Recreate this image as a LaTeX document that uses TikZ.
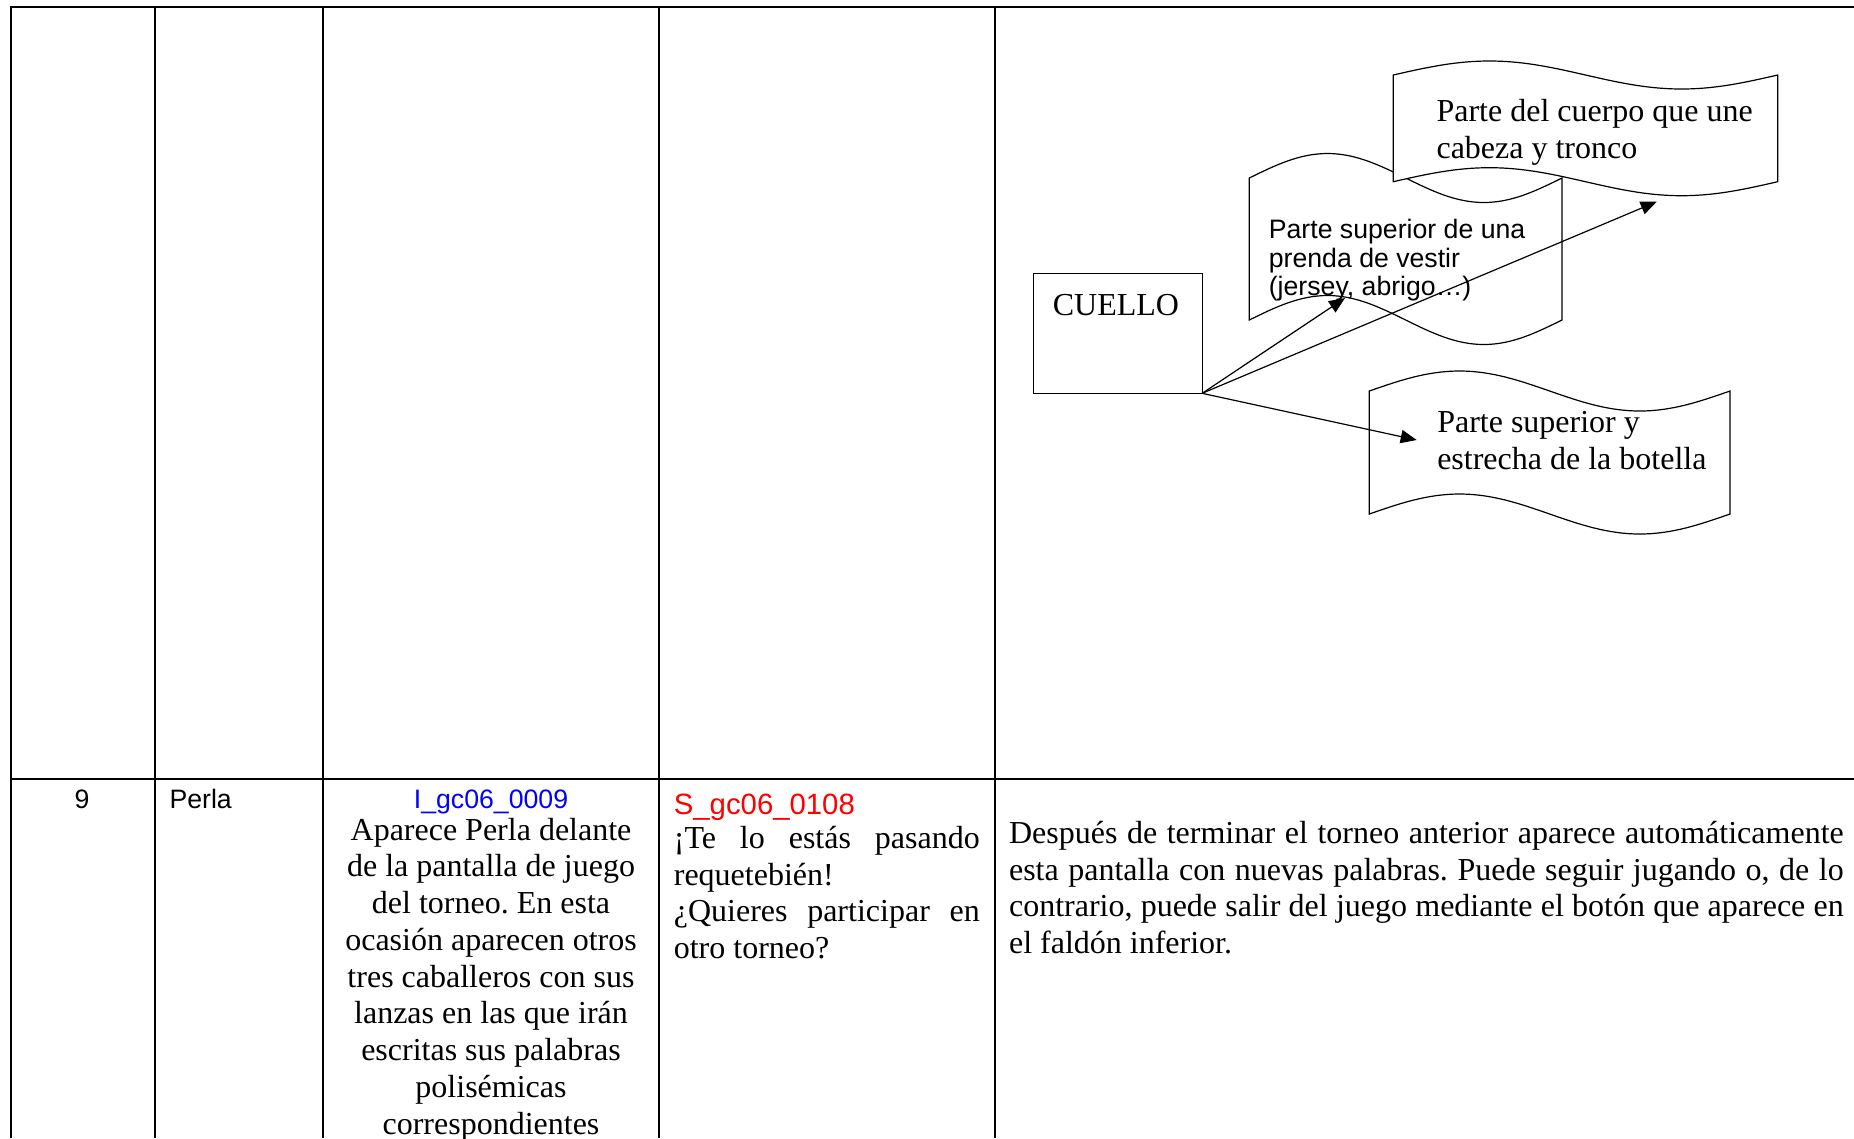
\documentclass[tikz,border=0pt]{standalone}
\usepackage{fontspec}
\setmainfont{Liberation Serif}
\setsansfont{Liberation Sans}
\frenchspacing
\usetikzlibrary{positioning,arrows.meta}
\definecolor{idblue}{RGB}{0,0,255}
\definecolor{idred}{RGB}{255,0,0}
\tikzset{
    rulings/.style={line width=0.65pt},
    serifline/.style={font=\fontsize{12}{13.8}\selectfont, inner sep=0pt},
    sansline/.style={font=\sffamily\fontsize{10}{11.5}\selectfont, inner sep=0pt},
    soundid/.style={sansline, font=\sffamily\fontsize{11}{12.6}\selectfont, text=idred},
    tape/.style={draw, fill=white, line width=0.45pt},
    wordbox/.style={draw, rectangle, line width=0.45pt,
                    minimum width=63.3pt, minimum height=45pt,
                    inner sep=0pt, outer sep=0pt},
    link/.style={-{Triangle[length=6pt,width=5pt]}, line width=0.45pt}
}
% wavy box: x0, y0 (top corners), x1, y1 (bottom corners), amplitude
\newcommand{\tapebox}[5]{%
  \draw[tape] (#1,#2) sin ({#1+(#3-#1)/4},{#2-#5}) cos ({#1+(#3-#1)/2},#2)
     sin ({#1+3*(#3-#1)/4},{#2+#5}) cos (#3,#2) -- (#3,#4)
     sin ({#1+3*(#3-#1)/4},{#4+#5}) cos ({#1+(#3-#1)/2},#4)
     sin ({#1+(#3-#1)/4},{#4-#5}) cos (#1,#4) -- cycle;}
% justified line
\newcommand{\jline}[2]{\makebox[#1][s]{#2}}

\begin{document}
\begin{tikzpicture}[x=0.375pt, y=-0.375pt]
    % Page
    \useasboundingbox (0,0) rectangle (1854,1138);
    \clip (0,0) rectangle (1854,1138);

    % Table rulings
    \draw[rulings] (11,1138) -- (11,6.7) -- (1854,6.7);
    \draw[rulings] (11,779) -- (1854,779);
    \foreach \xcol in {155,323,659,995}
        \draw[rulings] (\xcol,6.7) -- (\xcol,1138);

    % Row 9
    \node[sansline, anchor=base] (num) at (82,808) {9};
    \node[sansline, anchor=base west] (name) at (169,808) {Perla};
    \node[sansline, anchor=base, text=idblue] (imgid) at (491,808) {I\_gc06\_0009};
    \foreach \txt [count=\i from 0] in {Aparece Perla delante, de la pantalla de juego,
        del torneo. En esta, ocasión aparecen otros, tres caballeros con sus,
        lanzas en las que irán, escritas sus palabras, polisémicas, correspondientes}
        \node[serifline, anchor=base] (action\i) at (491,{840+36.75*\i}) {\txt};

    \node[soundid, anchor=base west] (sndid) at (673.3,814.3) {S\_gc06\_0108};
    \node[serifline, anchor=base west] (speech0) at (673.3,848.3) {\jline{114.75pt}{¡Te lo estás pasando}};
    \node[serifline, anchor=base west] (speech1) at (673.3,885) {requetebién!};
    \node[serifline, anchor=base west] (speech2) at (673.3,921.7) {\jline{114.75pt}{¿Quieres participar en}};
    \node[serifline, anchor=base west] (speech3) at (673.3,958.4) {otro torneo?};

    \node[serifline, anchor=base west] (note0) at (1008.5,843.3) {\jline{313pt}{Después de terminar el torneo anterior aparece automáticamente}};
    \node[serifline, anchor=base west] (note1) at (1008.5,880.1) {\jline{313pt}{esta pantalla con nuevas palabras. Puede seguir jugando o, de lo}};
    \node[serifline, anchor=base west] (note2) at (1008.5,916.8) {\jline{313pt}{contrario, puede salir del juego mediante el botón que aparece en}};
    \node[serifline, anchor=base west] (note3) at (1008.5,953.6) {el faldón inferior.};

    % Meanings
    \tapebox{1249.3}{178}{1562}{320}{24.5}
    \foreach \txt [count=\i from 0] in {Parte superior de una, prenda de vestir, {(jersey, abrigo…)}}
        \node[sansline, anchor=base west] (prenda\i) at (1268.3,{238.3+28.7*\i}) {\txt};
    \tapebox{1393.3}{75}{1777.7}{181.7}{14}
    \node[serifline, anchor=base west] (cuerpo0) at (1436,121) {Parte del cuerpo que une};
    \node[serifline, anchor=base west] (cuerpo1) at (1436,158.3) {cabeza y tronco};
    \tapebox{1369.3}{391}{1730}{514}{20}
    \node[serifline, anchor=base west] (botella0) at (1436.7,432) {Parte superior y};
    \node[serifline, anchor=base west] (botella1) at (1436.7,469.3) {estrecha de la botella};

    % Word
    \node[wordbox, anchor=north west] (cuello) at (1033.3,273.3) {};
    \node[serifline, anchor=base west] (cuellotxt) at (1052.3,315) {CUELLO};

    % Arrows
    \coordinate (toprenda) at (1345,298);
    \coordinate (tocuerpo) at (1656.7,201.7);
    \coordinate (tobotella) at (1416.7,440);
    \draw[link] (cuello.south east) -- (toprenda);
    \draw[link] (cuello.south east) -- (tocuerpo);
    \draw[link] (cuello.south east) -- (tobotella);
\end{tikzpicture}
\end{document}
